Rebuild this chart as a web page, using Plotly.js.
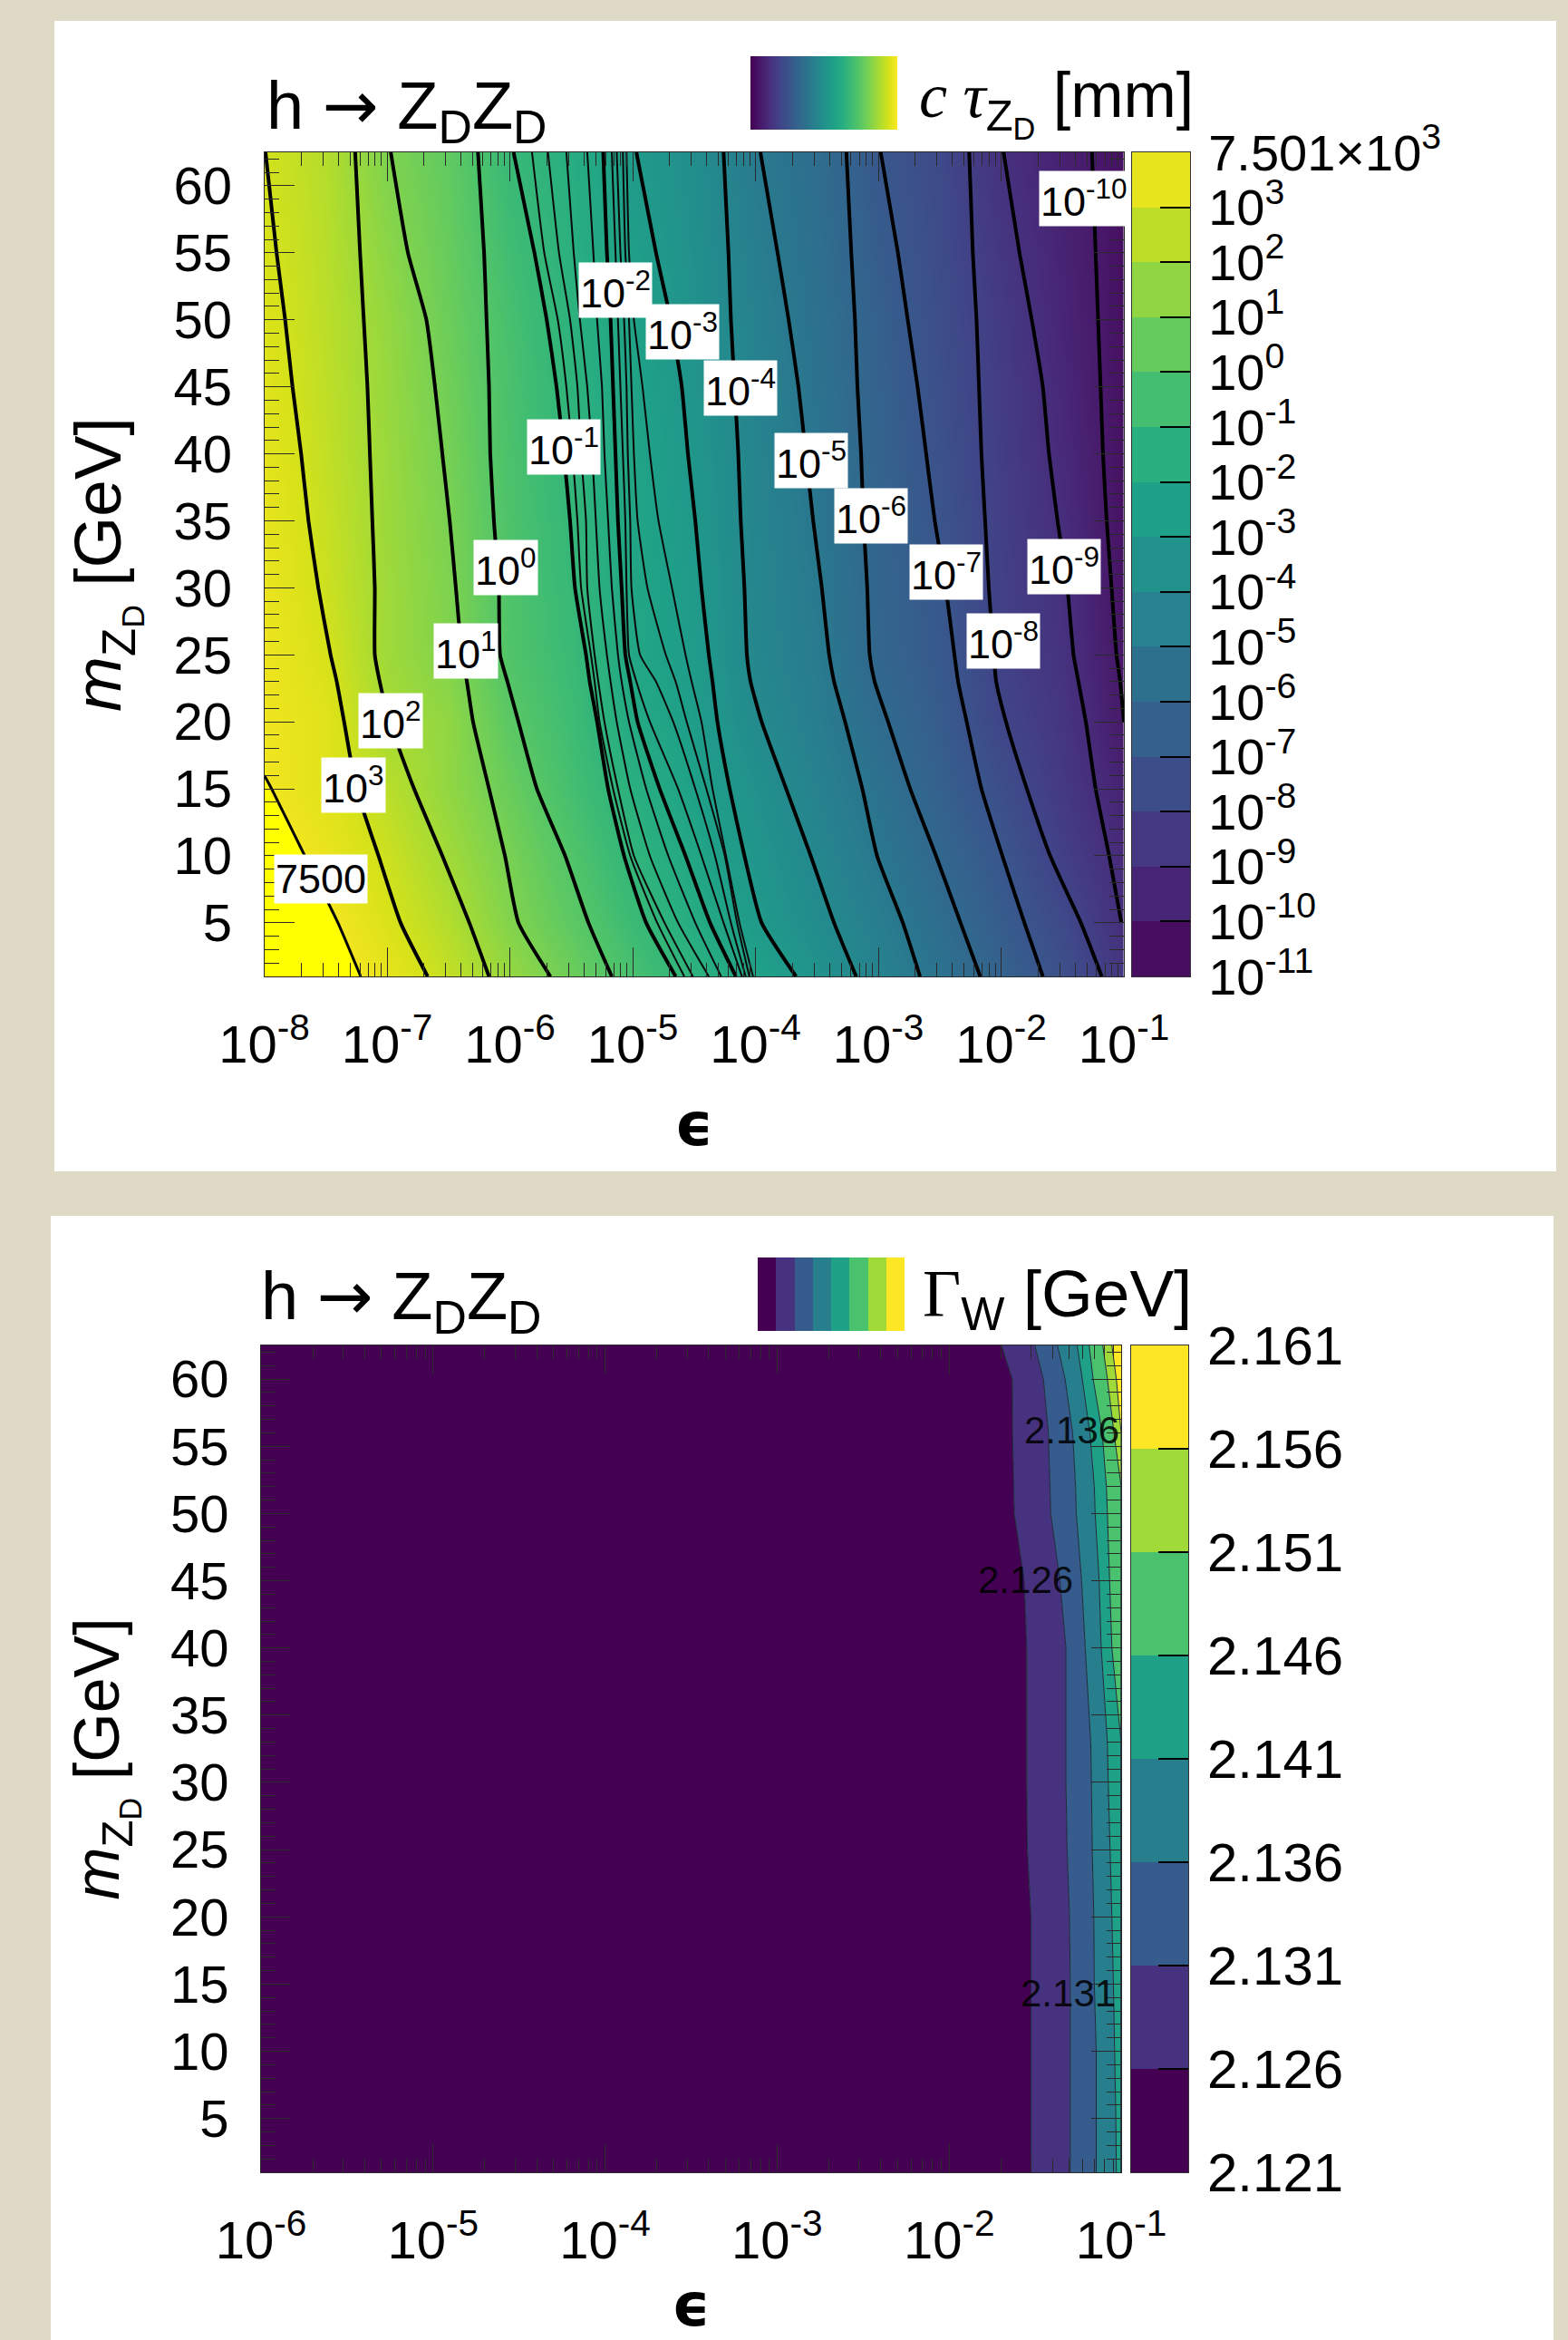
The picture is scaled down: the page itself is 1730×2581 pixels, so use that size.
<!DOCTYPE html>
<html><head><meta charset="utf-8">
<script src="https://cdn.plot.ly/plotly-3.0.1.min.js"></script>
<style>html,body{margin:0;padding:0;background:#dedac5}</style></head>
<body><div id="chart" style="width:1730px;height:2581px"></div>
<script>
// ---------- Upper panel: c tau of Z_D ----------
const massRows = [62.5,55,50,45,40,35,30,25,23,20,15,10,5,1];
// log10(epsilon) where each contour crosses the massRows above
const mass7500 = [16,15,10,5,1];
const line7500 = [-8,-7.94,-7.67,-7.40,-7.215];
const line1e3  = [-7.99,-7.90,-7.83,-7.77,-7.70,-7.64,-7.56,-7.46,-7.41,-7.35,-7.25,-7.07,-6.89,-6.67];
const line1e2  = [-7.26,-7.22,-7.19,-7.16,-7.14,-7.12,-7.10,-7.10,-7.06,-6.98,-6.78,-6.55,-6.33,-6.17];
const line1e1  = [-6.97,-6.83,-6.68,-6.61,-6.55,-6.49,-6.44,-6.39,-6.35,-6.30,-6.17,-6.04,-5.93,-5.67];
const line1e0  = [-6.26,-6.21,-6.19,-6.17,-6.16,-6.13,-6.09,-6.08,-6.02,-5.93,-5.78,-5.55,-5.36,-5.17];
const line1em1 = [-5.97,-5.80,-5.70,-5.62,-5.56,-5.51,-5.47,-5.38,-5.35,-5.29,-5.20,-5.07,-4.89,-4.65];
const thinA1   = [-5.82,-5.72,-5.61,-5.54,-5.49,-5.45,-5.42,-5.34,-5.31,-5.27,-5.16,-5.02,-4.80,-4.58];
const thinA2   = [-5.69,-5.60,-5.51,-5.45,-5.42,-5.38,-5.37,-5.31,-5.28,-5.23,-5.12,-4.99,-4.74,-4.51];
const thinA3   = [-5.54,-5.48,-5.43,-5.37,-5.33,-5.30,-5.27,-5.21,-5.18,-5.13,-5.02,-4.86,-4.63,-4.38];
const thinA4   = [-5.37,-5.32,-5.29,-5.25,-5.23,-5.20,-5.17,-5.12,-5.09,-5.03,-4.89,-4.71,-4.49,-4.28];
const line1em2 = [-5.24,-5.21,-5.18,-5.16,-5.14,-5.12,-5.09,-5.06,-5.02,-4.96,-4.78,-4.57,-4.37,-4.16];
const thinB1   = [-5.17,-5.14,-5.12,-5.10,-5.08,-5.06,-5.05,-5.03,-4.97,-4.86,-4.63,-4.44,-4.26,-4.11];
const thinB2   = [-5.13,-5.10,-5.07,-5.05,-5.04,-5.02,-5.01,-4.94,-4.81,-4.67,-4.49,-4.33,-4.20,-4.08];
const thinB3   = [-5.08,-5.06,-5.03,-5.01,-4.99,-4.96,-4.88,-4.73,-4.65,-4.56,-4.40,-4.25,-4.15,-4.05];
const thinB4   = [-5.05,-5.03,-4.99,-4.92,-4.86,-4.79,-4.68,-4.57,-4.52,-4.44,-4.35,-4.24,-4.13,-4.02];
const line1em3 = [-4.97,-4.81,-4.69,-4.60,-4.55,-4.49,-4.44,-4.38,-4.35,-4.31,-4.21,-4.09,-3.95,-3.67];
const line1em4 = [-4.26,-4.22,-4.20,-4.17,-4.14,-4.12,-4.09,-4.07,-4.04,-3.95,-3.75,-3.55,-3.36,-3.18];
const line1em5 = [-3.96,-3.82,-3.73,-3.65,-3.59,-3.53,-3.46,-3.40,-3.36,-3.27,-3.13,-3.01,-2.80,-2.66];
const line1em6 = [-3.26,-3.22,-3.19,-3.17,-3.14,-3.12,-3.09,-3.07,-3.03,-2.92,-2.74,-2.53,-2.33,-2.17];
const line1em7 = [-2.98,-2.84,-2.76,-2.68,-2.61,-2.54,-2.45,-2.38,-2.35,-2.28,-2.16,-1.99,-1.81,-1.66];
const line1em8 = [-2.26,-2.23,-2.20,-2.18,-2.16,-2.13,-2.10,-2.06,-2.04,-1.96,-1.79,-1.60,-1.35,-1.18];
const line1em9 = [-1.98,-1.85,-1.75,-1.66,-1.61,-1.54,-1.46,-1.41,-1.37,-1.31,-1.23,-1.12,-1.02,null];
const line1em10= [-1.26,-1.23,-1.21,-1.19,-1.17,-1.14,-1.10,-1.06,-1.03,-1.00,null,null,null,null];
const thickLines = [line1e3,line1e2,line1e1,line1e0,line1em1,line1em2,line1em3,line1em4,line1em5,line1em6,line1em7,line1em8,line1em9,line1em10];
const thinLines = [thinA1,thinA2,thinA3,thinA4,thinB1,thinB2,thinB3,thinB4];

// log10(c tau / mm) field; top value of the scale (7500) sits at 4 on the equal-step scale
const fieldEps = [-8,-7.5,-7,-6.5,-6,-5.5,-5,-4.5,-4,-3.5,-3,-2.5,-2,-1.5,-1];
const fieldMass = [1,5,10,15,20,25,30,40,50,62.5];
const fieldZ = [
 [5.4,4.52,3.66,2.66,1.66,0.66,-0.34,-1.3,-2.32,-3.35,-4.35,-5.32,-6.33,-7.32,-8.63],
 [5,4.2,3.2,2.3,1.18,0.25,-0.77,-1.75,-2.9,-3.76,-4.64,-5.64,-6.65,-7.67,-9.06],
 [4.5,3.72,2.87,1.9,0.92,-0.1,-1.14,-2.15,-3.17,-4.09,-5.02,-6.05,-6.98,-8.21,-9.25],
 [4.05,3.36,2.47,1.54,0.56,-0.48,-1.48,-2.49,-3.46,-4.4,-5.33,-6.41,-7.43,-8.52,-9.6],
 [3.93,3.4,2.05,1.54,0.19,-0.67,-1.88,-2.7,-3.86,-4.66,-5.77,-6.66,-7.88,-8.7,-10],
 [3.85,3.1,1.86,1.16,-0.11,-0.83,-2.09,-2.82,-4.1,-4.82,-6.1,-6.83,-8.09,-8.86,-10.15],
 [3.75,2.87,1.85,1.09,-0.14,-0.95,-2.14,-2.9,-4.14,-4.94,-6.14,-6.92,-8.16,-8.94,-10.28],
 [3.54,2.64,1.76,0.87,-0.27,-1.14,-2.24,-3.12,-4.25,-5.2,-6.26,-7.24,-8.29,-9.25,-10.35],
 [3.27,2.48,1.63,0.63,-0.39,-1.38,-2.37,-3.39,-4.43,-5.43,-6.44,-7.46,-8.44,-9.46,-10.39],
 [3.0,2.33,1.10,0.34,-0.90,-1.64,-2.89,-3.66,-4.87,-5.66,-6.93,-7.67,-8.93,-9.67,-10.36]
];
const lifetimeLevels = [-11,-10,-9,-8,-7,-6,-5,-4,-3,-2,-1,0,1,2,3,4];
const lifetimeTicks = ['10<sup>-11</sup>','10<sup>-10</sup>','10<sup>-9</sup>','10<sup>-8</sup>','10<sup>-7</sup>','10<sup>-6</sup>','10<sup>-5</sup>','10<sup>-4</sup>','10<sup>-3</sup>','10<sup>-2</sup>','10<sup>-1</sup>','10<sup>0</sup>','10<sup>1</sup>','10<sup>2</sup>','10<sup>3</sup>','7.501×10<sup>3</sup>'];
const lifetimeBands = [-10.5,-9.5,-8.5,-7.5,-6.5,-5.5,-4.5,-3.5,-2.5,-1.5,-0.5,0.5,1.5,2.5,3.5];
const gradientStops = [0,1,2,3,4,5,6,7,8,9,10,11,12,13,14,15,16];
const upperLabelText = ['7500','10<sup>3</sup>','10<sup>2</sup>','10<sup>1</sup>','10<sup>0</sup>','10<sup>-1</sup>','10<sup>-2</sup>','10<sup>-3</sup>','10<sup>-4</sup>','10<sup>-5</sup>','10<sup>-6</sup>','10<sup>-7</sup>','10<sup>-8</sup>','10<sup>-9</sup>','10<sup>-10</sup>'];
const upperLabelEps = [-7.536,-7.274,-6.971,-6.359,-6.034,-5.562,-5.141,-4.595,-4.123,-3.547,-3.06,-2.447,-1.982,-1.488,-1.325];
const upperLabelMass = [8.3,15.3,20.1,25.3,31.5,40.5,52.2,49.1,44.9,39.5,35.4,31.2,26.0,31.6,59.05];
const upperEpsTicks = [-8,-7,-6,-5,-4,-3,-2,-1];
const massTicks = [5,10,15,20,25,30,35,40,45,50,55,60];

// ---------- Lower panel: Gamma_W ----------
const widthRows = [62.5,60,56,52,50,45,40,35,33,30,25,20,15,10,5,1];
const edge2126 = [-1.695,-1.633,-1.631,-1.626,-1.621,-1.563,-1.549,-1.549,-1.549,-1.549,-1.545,-1.524,-1.524,-1.524,-1.524,-1.524];
const edge2131 = [-1.502,-1.452,-1.423,-1.412,-1.409,-1.356,-1.321,-1.321,-1.321,-1.321,-1.314,-1.300,-1.296,-1.296,-1.296,-1.296];
const edge2136 = [-1.370,-1.326,-1.282,-1.265,-1.261,-1.230,-1.209,-1.186,-1.177,-1.173,-1.168,-1.159,-1.156,-1.145,-1.145,-1.145];
const edge2141 = [-1.256,-1.226,-1.182,-1.156,-1.151,-1.128,-1.116,-1.089,-1.080,-1.075,-1.063,-1.054,-1.045,-1.037,-1.031,-1.028];
const edge2146 = [-1.186,-1.163,-1.110,-1.086,-1.080,-1.068,-1.054,-1.016,-1,-1,-1,-1,-1,-1,-1,-1];
const edge2151 = [-1.107,-1.080,-1.042,-1,-1,-1,-1,-1,-1,-1,-1,-1,-1,-1,-1,-1];
const edge2156 = [-1.054,-1.028,-1,-1,-1,-1,-1,-1,-1,-1,-1,-1,-1,-1,-1,-1];
const widthEdges = [edge2126,edge2131,edge2136,edge2141,edge2146,edge2151,edge2156];
const leftEdge = [-6,-6,-6,-6,-6,-6,-6,-6,-6,-6,-6,-6,-6,-6,-6,-6];
const rightEdge = [-1,-1,-1,-1,-1,-1,-1,-1,-1,-1,-1,-1,-1,-1,-1,-1];
const widthColors = ['#440154','#46327e','#365c8d','#277f8e','#1fa187','#4ac16d','#a0da39','#fde725'];
const widthLevels = [2.121,2.126,2.131,2.136,2.141,2.146,2.151,2.156,2.161];
const widthBands = [2.1235,2.1285,2.1335,2.1385,2.1435,2.1485,2.1535,2.1585];
const lowerEpsTicks = [-6,-5,-4,-3,-2,-1];
const lowerLabelText = ['2.136','2.126','2.131'];
const lowerLabelEps = [-1.285,-1.556,-1.31];
const lowerLabelMass = [56.2,45.1,14.3];

const viridis = [[0,'#440154'],[0.0627,'#48186a'],[0.1255,'#472d7b'],[0.1882,'#424086'],[0.251,'#3b528b'],[0.3137,'#33638d'],[0.3765,'#2c728e'],[0.4392,'#26828e'],[0.502,'#21918c'],[0.5647,'#1fa088'],[0.6275,'#28ae80'],[0.6902,'#3fbc73'],[0.7529,'#5ec962'],[0.8157,'#84d44b'],[0.8784,'#addc30'],[0.9412,'#d8e219'],[1,'#fde725']];
const W=1730,H=2581;
const fx=p=>p/W, fy=p=>1-p/H;
const pow10=a=>a.map(v=>v===null?null:Math.pow(10,v));
const FONT='Liberation Sans, Arial, sans-serif';
const decade=v=>'10<sup>'+v+'</sup>';

// field colours run up to 7500, everything above it is pure yellow
const ZTOP=4.2;
const fieldScale=viridis.map(s=>[s[0]*15/15.2,s[1]]);
fieldScale[fieldScale.length-1][1]='#f2e51f';
fieldScale.push([15.02/15.2,'#ffff00'],[1,'#ffff00']);

const stepScale=widthColors.flatMap((c,i)=>[[i/8,c],[(i+1)/8,c]]);

const traces=[];
traces.push({type:'contour',x:pow10(fieldEps),y:fieldMass,z:fieldZ,xaxis:'x',yaxis:'y',
  contours:{coloring:'heatmap',showlines:false,start:-11,end:4,size:1},line:{width:0},
  zmin:-11,zmax:ZTOP,zauto:false,colorscale:fieldScale,showscale:false,hoverinfo:'skip'});
thinLines.forEach(a=>traces.push({type:'scatter',mode:'lines',x:pow10(a),y:massRows,xaxis:'x',yaxis:'y',
  line:{color:'#0a0a0a',width:2,shape:'spline',smoothing:0.5},showlegend:false,hoverinfo:'skip'}));
thickLines.forEach(a=>traces.push({type:'scatter',mode:'lines',x:pow10(a),y:massRows,xaxis:'x',yaxis:'y',
  line:{color:'#000',width:4,shape:'spline',smoothing:0.5},showlegend:false,hoverinfo:'skip'}));
traces.push({type:'scatter',mode:'lines',x:pow10(line7500),y:mass7500,xaxis:'x',yaxis:'y',
  line:{color:'#000',width:3,shape:'spline',smoothing:0.5},showlegend:false,hoverinfo:'skip'});

// lifetime scale bar
traces.push({type:'heatmap',x:[0,1],y:lifetimeLevels,z:lifetimeBands.map(v=>[v]),xaxis:'x3',yaxis:'y3',
  zmin:-11,zmax:4,colorscale:viridis,showscale:false,hoverinfo:'skip'});
// lifetime legend strip
traces.push({type:'heatmap',x:gradientStops,y:[0,1],z:[gradientStops,gradientStops],xaxis:'x5',yaxis:'y5',zsmooth:'best',
  zmin:0,zmax:16,colorscale:viridis,showscale:false,hoverinfo:'skip'});

// lower panel bands
traces.push({type:'scatter',mode:'lines',x:pow10(leftEdge),y:widthRows,xaxis:'x2',yaxis:'y2',line:{width:0},showlegend:false,hoverinfo:'skip'});
widthEdges.forEach((a,i)=>traces.push({type:'scatter',mode:'lines',x:pow10(a),y:widthRows,xaxis:'x2',yaxis:'y2',
  fill:'tonextx',fillcolor:widthColors[i],line:{color:'#1c2a3a',width:1},showlegend:false,hoverinfo:'skip'}));
traces.push({type:'scatter',mode:'lines',x:pow10(rightEdge),y:widthRows,xaxis:'x2',yaxis:'y2',fill:'tonextx',fillcolor:widthColors[7],line:{width:0},showlegend:false,hoverinfo:'skip'});
// width scale bar
traces.push({type:'heatmap',x:[0,1],y:widthLevels,z:widthBands.map(v=>[v]),xaxis:'x4',yaxis:'y4',
  zmin:2.121,zmax:2.161,colorscale:stepScale,showscale:false,hoverinfo:'skip'});
// width legend strip
traces.push({type:'heatmap',x:widthBands,y:[0],z:[widthBands],xaxis:'x6',yaxis:'y6',
  zmin:2.121,zmax:2.161,colorscale:stepScale,showscale:false,hoverinfo:'skip'});

const tickCol='#2a2a2a';
function epsAxis(dom,yAnchor,vals,size,standoff){return {
  type:'log',domain:[fx(dom[0]),fx(dom[1])],anchor:yAnchor,range:[vals[0],vals[vals.length-1]],
  tickmode:'array',tickvals:vals.map(v=>Math.pow(10,v)),ticktext:vals.map(decade),
  ticks:'inside',ticklen:32,tickwidth:1,tickcolor:tickCol,
  minor:{ticks:'inside',ticklen:15,tickwidth:1,tickcolor:tickCol,dtick:'D1',showgrid:false},
  showline:true,linecolor:tickCol,linewidth:1,mirror:'allticks',showgrid:false,zeroline:false,
  ticklabelstandoff:24,tickangle:0,tickfont:{family:FONT,size:size,color:'#000'},
  title:{text:'<b>ϵ</b>',font:{family:'DejaVu Sans',size:66,color:'#000'},standoff:standoff},layer:'above traces',fixedrange:true};}
function massAxis(dom,xAnchor,titleSize){return {
  domain:[fy(dom[1]),fy(dom[0])],anchor:xAnchor,range:[1,62.5],
  tickmode:'array',tickvals:massTicks,ticktext:massTicks.map(String),
  ticks:'inside',ticklen:33,tickwidth:1,tickcolor:tickCol,
  minor:{ticks:'inside',ticklen:16,tickwidth:1,tickcolor:tickCol,dtick:1,tick0:0,showgrid:false},
  showline:true,linecolor:tickCol,linewidth:1,mirror:'allticks',showgrid:false,zeroline:false,
  ticklabelstandoff:23,tickfont:{family:FONT,size:58,color:'#000'},
  title:{text:'<i>m</i><sub>Z<sub>D</sub></sub> [GeV]',font:{family:FONT,size:titleSize,color:'#000'},standoff:33},fixedrange:true};}
function barX(dom,yAnchor){return {domain:[fx(dom[0]),fx(dom[1])],anchor:yAnchor,range:[0,1],showticklabels:false,ticks:'',showgrid:false,zeroline:false,
  showline:true,linecolor:'#333',linewidth:1,mirror:true,fixedrange:true};}
function barY(dom,xAnchor,range,vals,text,size){return {domain:[fy(dom[1]),fy(dom[0])],anchor:xAnchor,side:'right',range:range,
  tickmode:'array',tickvals:vals,ticktext:text,ticks:'inside',ticklen:33,tickwidth:2,tickcolor:'#000',
  showline:true,linecolor:'#333',linewidth:1,mirror:true,showgrid:false,zeroline:false,
  ticklabelstandoff:8,tickfont:{family:FONT,size:size,color:'#000'},fixedrange:true};}
function stripAxis(dom,anchor,isY,range){const d=isY?[fy(dom[1]),fy(dom[0])]:[fx(dom[0]),fx(dom[1])];
  const a={domain:d,anchor:anchor,visible:false,fixedrange:true}; if(range)a.range=range; return a;}

const annotations=[];
upperLabelText.forEach((t,i)=>annotations.push({xref:'x',yref:'y',x:upperLabelEps[i],y:upperLabelMass[i],text:t,showarrow:false,
  bgcolor:'#fff',borderpad:1,font:{family:FONT,size:45,color:'#000'},xanchor:'center',yanchor:'middle'}));
lowerLabelText.forEach((t,i)=>annotations.push({xref:'x2',yref:'y2',x:lowerLabelEps[i],y:lowerLabelMass[i],text:t,showarrow:false,
  font:{family:FONT,size:42,color:'rgba(0,0,0,0.85)'},xanchor:'center',yanchor:'middle'}));
function pageText(t,x,y,size){annotations.push({xref:'paper',yref:'paper',x:fx(x),y:fy(y),text:t,showarrow:false,xanchor:'left',yanchor:'middle',
  font:{family:FONT,size:size,color:'#000'}});}
const arrow='<span style="font-family:DejaVu Sans">→</span>';
pageText('h '+arrow+' Z<sub>D</sub>Z<sub>D</sub>',292,121,74);
pageText('h '+arrow+' Z<sub>D</sub>Z<sub>D</sub>',286,1434,74);
pageText('<span style="font-family:Liberation Serif"><i>c τ</i></span><sub>Z<sub>D</sub></sub> [mm]',1012,113,70);
pageText('<span style="font-family:Liberation Serif">Γ</span><sub>W</sub> [GeV]',1016,1432,73);

const layout={width:W,height:H,autosize:false,margin:{l:0,r:0,t:0,b:0,pad:0},paper_bgcolor:'#dedac5',plot_bgcolor:'#fff',showlegend:false,
  shapes:[
   {type:'rect',xref:'paper',yref:'paper',x0:fx(60),x1:fx(1717),y0:fy(23),y1:fy(1292),fillcolor:'#fff',line:{width:0},layer:'below'},
   {type:'rect',xref:'paper',yref:'paper',x0:fx(56),x1:fx(1714),y0:fy(1341),y1:fy(H),fillcolor:'#fff',line:{width:0},layer:'below'}],
  annotations:annotations,
  xaxis:epsAxis([291.6,1240],'y',upperEpsTicks,58,34),
  yaxis:massAxis([168,1077],'x',73),
  xaxis2:epsAxis([288,1237],'y2',lowerEpsTicks,58,55),
  yaxis2:massAxis([1484,2396],'x2',70),
  xaxis3:barX([1249,1313],'y3'),
  yaxis3:barY([168,1077],'x3',[-11,4],lifetimeLevels,lifetimeTicks,56),
  xaxis4:barX([1248,1311],'y4'),
  yaxis4:barY([1484,2396],'x4',[2.121,2.161],widthLevels,widthLevels.map(v=>v.toFixed(3)),60),
  xaxis5:stripAxis([828,990],'y5',false,[0,16]),yaxis5:stripAxis([62,143],'x5',true,[0,1]),
  xaxis6:stripAxis([836,998],'y6',false),yaxis6:stripAxis([1387,1468],'x6',true)
};
Plotly.newPlot('chart',traces,layout,{displayModeBar:false,staticPlot:true});
</script></body></html>
